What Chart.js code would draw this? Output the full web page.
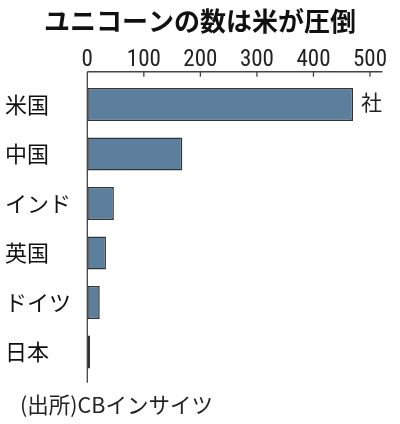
<!DOCTYPE html>
<html><head><meta charset="utf-8">
<script src="https://cdn.jsdelivr.net/npm/chart.js@4.4.0/dist/chart.umd.min.js"></script>
<style>html,body{margin:0;padding:0;background:#fff}#wrap{width:400px;height:424px}</style>
</head><body><div id="wrap"><canvas id="c" width="400" height="424"></canvas></div>
<script>
const categories = ["米国", "中国", "インド", "英国", "ドイツ", "日本"];
const unicornCounts = [470, 168, 47, 33, 22, 5];
const xTicks = [0, 100, 200, 300, 400, 500];
const titleText = "ユニコーンの数は米が圧倒";
const unitText = "社";
const sourceText = "(出所)CBインサイツ";

const JP = '"Noto Sans CJK JP", "Noto Sans", sans-serif';
const NUM = '"Roboto Condensed", "Liberation Sans Narrow", "DejaVu Sans Condensed", "Liberation Sans", sans-serif';

const decor = {
  id: 'decor',
  afterDatasetsDraw(chart) {
    const ctx = chart.ctx, x = chart.scales.x;
    const a = chart.chartArea;
    const x0 = x.getPixelForValue(0);
    const axisY = a.top - 8;
    ctx.save();
    ctx.strokeStyle = '#444';
    ctx.lineWidth = 1.3;
    ctx.beginPath();
    ctx.moveTo(x0, axisY); ctx.lineTo(a.right + 12.5, axisY);
    ctx.moveTo(x0, axisY); ctx.lineTo(x0, a.bottom + 6);
    xTicks.forEach(v => {
      if (v === 0) return;
      const px = x.getPixelForValue(v);
      ctx.moveTo(px, axisY); ctx.lineTo(px, axisY + 5);
    });
    ctx.stroke();
    ctx.textBaseline = 'middle';
    ctx.fillStyle = '#111';
    ctx.textAlign = 'center';
    ctx.font = 'bold 26px ' + JP;
    ctx.fillText(titleText, chart.width / 2, 21);
    const bar = chart.getDatasetMeta(0).data[0];
    ctx.fillStyle = '#222';
    ctx.textAlign = 'left';
    ctx.font = '21px ' + JP;
    ctx.fillText(unitText, x.getPixelForValue(500) - 9, bar.y - 2);
    ctx.font = '21.5px ' + JP;
    ctx.fillText(sourceText, 20, 405);
    ctx.restore();
  }
};

new Chart(document.getElementById('c'), {
  type: 'bar',
  data: {
    labels: categories,
    datasets: [{
      data: unicornCounts,
      backgroundColor: '#5c7f9d',
      borderColor: '#333',
      borderWidth: 1.5,
      borderSkipped: false,
      barPercentage: 0.67,
      categoryPercentage: 1
    }]
  },
  options: {
    indexAxis: 'y',
    responsive: false,
    animation: false,
    devicePixelRatio: 1,
    layout: { padding: { left: 5, right: 30, top: 36.8, bottom: 47.25 } },
    plugins: {
      legend: { display: false },
      tooltip: { enabled: false },
      title: { display: false }
    },
    scales: {
      x: {
        position: 'top',
        min: 0, max: 500,
        afterBuildTicks(s) { s.ticks = xTicks.map(v => ({ value: v })); },
        afterFit(s) { s.height = 79.75 - 36.8; },
        grid: { display: false },
        border: { display: false },
        ticks: {
          color: '#222',
          padding: -2.5,
          font: { family: NUM, size: 23 },
          maxRotation: 0
        }
      },
      y: {
        afterFit(s) { s.width = 82.3; },
        grid: { display: false },
        border: { display: false },
        ticks: {
          color: '#111',
          crossAlign: 'far',
          font: { family: JP, size: 22 }
        }
      }
    }
  },
  plugins: [decor]
});
</script></body></html>
